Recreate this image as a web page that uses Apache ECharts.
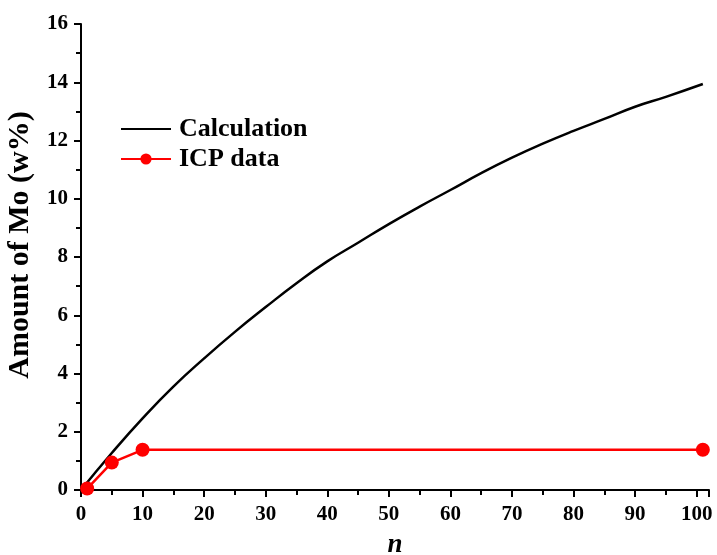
<!DOCTYPE html>
<html>
<head>
<meta charset="utf-8">
<script src="https://cdn.jsdelivr.net/npm/echarts@6/dist/echarts.min.js"></script>
<style>
  html, body { margin: 0; padding: 0; background: #fff; overflow: hidden; }
  #chart { width: 717px; height: 555px; }
</style>
</head>
<body>
<div id="chart"></div>
<script>
// Calculated Mo content versus cycle number n
const calcN = [0, 5, 10, 15, 20, 25, 30, 35, 40, 45, 50, 55, 60, 65, 70, 75, 80, 85, 90, 95, 101];
const calcMo = [0, 1.27, 2.46, 3.55, 4.52, 5.43, 6.28, 7.1, 7.85, 8.49, 9.13, 9.73, 10.3, 10.88, 11.41, 11.89, 12.33, 12.74, 13.16, 13.5, 13.94];

// Measured Mo content (ICP)
const icpN = [1, 5, 10, 101];
const icpMo = [0.05, 0.94, 1.38, 1.38];

const yTicks = [0, 2, 4, 6, 8, 10, 12, 14, 16];
const xTicks = [0, 10, 20, 30, 40, 50, 60, 70, 80, 90, 100];

const FONT = '"Liberation Serif", "Times New Roman", serif';

const chart = echarts.init(document.getElementById('chart'));

const axisCommon = {
  axisLine: { show: true, lineStyle: { color: '#000', width: 2 } },
  axisTick: { show: true, inside: false, length: 7, lineStyle: { color: '#000', width: 2 } },
  minorTick: { show: true, splitNumber: 2, length: 5, lineStyle: { color: '#000', width: 2 } },
  splitLine: { show: false },
  axisLabel: { color: '#000', fontFamily: FONT, fontWeight: 'bold', fontSize: 21 },
  nameTextStyle: { color: '#000', fontFamily: FONT, fontWeight: 'bold', fontSize: 30 }
};

chart.setOption({
  backgroundColor: '#fff',
  animation: false,
  grid: { left: 81, right: 8, top: 24, bottom: 65, containLabel: false, outerBoundsMode: 'none' },
  legend: {
    orient: 'vertical',
    left: 115,
    top: 111,
    itemWidth: 50,
    itemHeight: 14,
    itemGap: 4,
    textStyle: { color: '#000', fontFamily: FONT, fontWeight: 'bold', fontSize: 26, padding: [0, 0, 0, 3] },
    data: [
      { name: 'Calculation', itemStyle: { opacity: 0 } },
      { name: 'ICP data' }
    ]
  },
  xAxis: Object.assign({}, axisCommon, {
    type: 'value',
    min: 0,
    max: 102,
    interval: 10,
    name: 'n',
    nameLocation: 'middle',
    nameGap: 42,
    nameTextStyle: Object.assign({}, axisCommon.nameTextStyle, { fontStyle: 'italic', fontSize: 27 }),
    axisLabel: Object.assign({}, axisCommon.axisLabel, {
      margin: 14,
      formatter: v => (xTicks.indexOf(v) >= 0 ? String(v) : '')
    })
  }),
  yAxis: Object.assign({}, axisCommon, {
    type: 'value',
    min: 0,
    max: 16,
    interval: 2,
    name: 'Amount of Mo (w%)',
    nameLocation: 'middle',
    nameGap: 46,
    nameTextStyle: Object.assign({}, axisCommon.nameTextStyle, { padding: [0, 0, 0, 24] }),
    axisLabel: Object.assign({}, axisCommon.axisLabel, {
      margin: 13,
      formatter: v => (yTicks.indexOf(v) >= 0 ? String(v) : '')
    })
  }),
  series: [
    {
      name: 'Calculation',
      type: 'line',
      smooth: true,
      symbol: 'none',
      lineStyle: { color: '#000', width: 2.5 },
      itemStyle: { color: '#000' },
      data: calcN.map((n, i) => [n, calcMo[i]]),
      z: 2
    },
    {
      name: 'ICP data',
      type: 'line',
      symbol: 'circle',
      symbolSize: 14,
      lineStyle: { color: '#ff0000', width: 2.5 },
      itemStyle: { color: '#ff0000' },
      data: icpN.map((n, i) => [n, icpMo[i]]),
      z: 3
    }
  ]
});
</script>
</body>
</html>
